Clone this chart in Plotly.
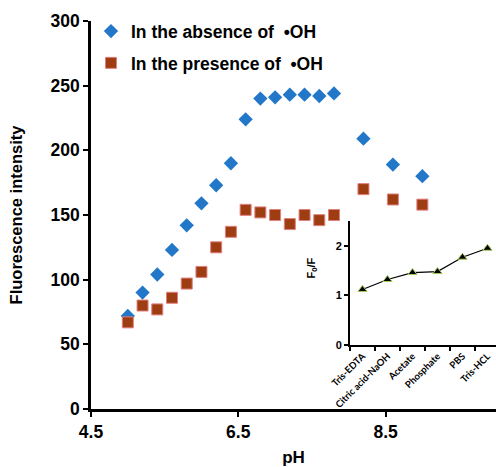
import plotly.graph_objects as go

ph = [5.0, 5.2, 5.4, 5.6, 5.8, 6.0, 6.2, 6.4, 6.6, 6.8, 7.0, 7.2, 7.4, 7.6, 7.8, 8.2, 8.6, 9.0]
absence = [72, 90, 104, 123, 142, 159, 173, 190, 224, 240, 241, 243, 243, 242, 244, 209, 189, 180]
presence = [67, 80, 77, 86, 97, 106, 125, 137, 154, 152, 150, 143, 150, 146, 150, 170, 162, 158]

buffers = ["Tris-EDTA", "Citric acid-NaOH", "Acetate", "Phosphate", "PBS", "Tris-HCL"]
f0f = [1.12, 1.32, 1.46, 1.48, 1.77, 1.95]

FONT = "Liberation Sans, Arial, sans-serif"

fig = go.Figure()
fig.add_trace(go.Scatter(
    x=ph, y=absence, mode="markers", name="In the absence of\u00a0\u00a0\u2022OH",
    legendgroup="a",
    marker=dict(symbol="diamond", size=11, color="#2277c9", line=dict(width=0)),
))
fig.add_trace(go.Scatter(
    x=ph, y=presence, mode="markers", name="In the presence of\u00a0\u00a0\u2022OH",
    legendgroup="b",
    marker=dict(symbol="square", size=11, color="#9e3d12", line=dict(width=1, color="#e08080")),
))
fig.add_trace(go.Scatter(
    x=buffers, y=f0f, mode="lines+markers", xaxis="x2", yaxis="y2", showlegend=False,
    line=dict(color="black", width=1.2),
    marker=dict(symbol="triangle-up", size=8, color="black", line=dict(width=1, color="#a8cc5a")),
    cliponaxis=False,
))

fig.update_layout(
    width=496, height=467,
    margin=dict(l=91, r=0, t=21, b=58, autoexpand=False),
    paper_bgcolor="white", plot_bgcolor="white",
    font=dict(family=FONT, size=17, color="black"),
    showlegend=True,
    legend=dict(x=0.0, y=1.02, xanchor="left", yanchor="top", bgcolor="rgba(0,0,0,0)",
                font=dict(family=FONT, size=17.5, color="black", weight="bold"),
                traceorder="grouped", tracegroupgap=6, itemwidth=30),
    xaxis=dict(range=[4.5, 10.0], tickvals=[4.5, 6.5, 8.5], ticktext=["4.5", "6.5", "8.5"],
               automargin=False,
               showgrid=False, zeroline=False, showline=True, linecolor="black", linewidth=2.5,
               ticks="outside", ticklen=5, tickwidth=2, tickcolor="black",
               tickfont=dict(family=FONT, size=17.5, weight="bold"),
               title=dict(text="pH", font=dict(family=FONT, size=17, weight="bold"), standoff=12)),
    yaxis=dict(range=[0, 300], dtick=50, showgrid=False, zeroline=False, showline=True,
               automargin=False,
               linecolor="black", linewidth=2.5, ticks="outside", ticklen=5, tickwidth=2,
               tickcolor="black", tickfont=dict(family=FONT, size=17.5, weight="bold"),
               title=dict(text="Fluorescence intensity", font=dict(family=FONT, size=16.5, weight="bold"),
                          standoff=24)),
    xaxis2=dict(domain=[0.6395, 1.0], anchor="y2", range=[-0.5, 5.34], type="category",
                automargin=False,
                showgrid=False, zeroline=False, showline=True, linecolor="black", linewidth=2,
                ticks="outside", tickson="boundaries", ticklen=4, tickwidth=1.5, tickcolor="black",
                tickangle=-45, tickfont=dict(family="Lato, Open Sans, sans-serif", size=9.5, weight="bold")),
    yaxis2=dict(domain=[0.165, 0.4845], anchor="x2", range=[0, 2.5], tickvals=[0, 1, 2],
                automargin=False,
                showgrid=False, zeroline=False, showline=True, linecolor="black", linewidth=2,
                ticks="outside", ticklen=4, tickwidth=1.5, tickcolor="black",
                tickfont=dict(family=FONT, size=11, weight="bold")),
    annotations=[dict(text="F<sub>0</sub>/F", xref="paper", yref="paper",
                      x=(311 - 91) / 405, y=(409 - 281) / 388, showarrow=False, textangle=-90,
                      font=dict(family=FONT, size=11, weight="bold"))],
)

fig.write_html("out.html", config={"displayModeBar": False},
               post_script="document.body.style.margin='0';document.body.style.overflow='hidden';")
